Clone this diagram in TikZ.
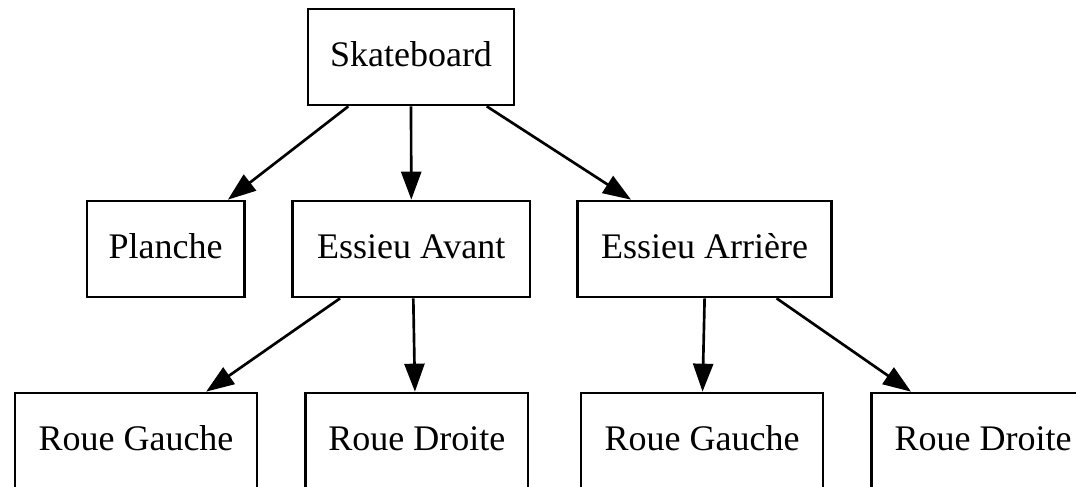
\documentclass[tikz,border=0pt]{standalone}
\usepackage{fontspec}
\setmainfont{Liberation Serif}
\usetikzlibrary{arrows.meta}
\tikzset{
	part/.style = {draw, line width = 1pt, minimum height = 36pt, inner sep = 0pt, text height = 10pt, text depth = 2.5pt, font = \fontsize{13.5}{16}\selectfont},
	link/.style = {line width = 1pt, -{Triangle[length = 10.5pt, width = 7.5pt]}}
}
\begin{document}
\begin{tikzpicture}[x = 0.375pt, y = -0.375pt]
		\useasboundingbox (0, 0) rectangle (1076, 487);
		\begin{scope}
		\clip (0, 0) rectangle (1076, 487);
		\foreach \n/\x/\y/\w/\t in {skate/411/57/77.25/Skateboard, planche/165.5/249/59/Planche, avant/411.3/249/88.9/Essieu Avant, arriere/704.6/249/95.25/Essieu Arrière, rgAvant/136/441/90.75/Roue Gauche, rdAvant/416.8/441/83.4/Roue Droite, rgArriere/702/441/90.75/Roue Gauche, rdArriere/983/441/83.4/Roue Droite}{
			\node[part, minimum width = \w pt] (\n) at (\x, \y) {\t};}
		\foreach \a/\b/\sa/\sb in {skate/planche/-23.5/23.4, skate/avant/0/0, skate/arriere/28.4/-27.6, avant/rgAvant/-26.7/26.3, avant/rdAvant/0.75/-0.7, arriere/rgArriere/0/0.2, arriere/rdArriere/27/-27}{
			\draw[link] ([xshift = \sa pt]\a.south) -- ([xshift = \sb pt]\b.north);}
		\end{scope}
\end{tikzpicture}
\end{document}
